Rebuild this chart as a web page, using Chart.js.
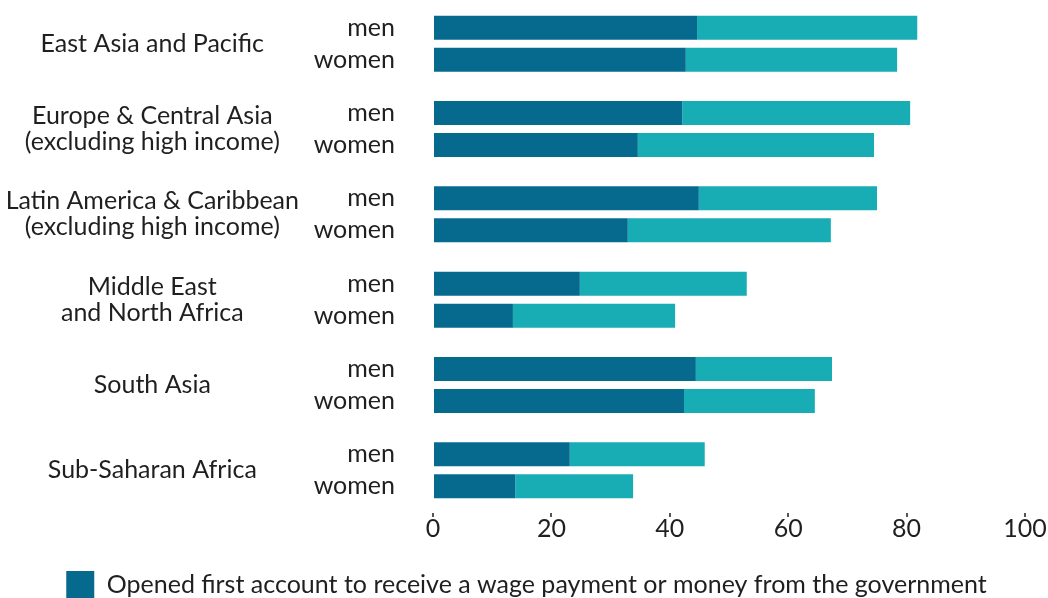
<!DOCTYPE html>
<html><head><meta charset="utf-8">
<script src="https://cdn.jsdelivr.net/npm/chart.js@4.4.0/dist/chart.umd.min.js"></script>
<style>
html,body{margin:0;padding:0;overflow:hidden;background:#fff}
#wrap{position:absolute;left:0;top:0;width:1048px;height:609px}
</style>
</head><body><div id="wrap"><canvas id="c"></canvas></div>
<script>
const regions = [
  ["East Asia and Pacific"],
  ["Europe & Central Asia", "(excluding high income)"],
  ["Latin America & Caribbean", "(excluding high income)"],
  ["Middle East", "and North Africa"],
  ["South Asia"],
  ["Sub-Saharan Africa"]
];
const genders = ["men", "women"];
const menWage    = [44.6, 42.1, 44.9, 24.8, 44.4, 23.1];
const menOther   = [37.2, 38.5, 30.1, 28.2, 23.0, 22.8];
const womenWage  = [42.7, 34.6, 32.9, 13.5, 42.4, 13.9];
const womenOther = [35.7, 39.9, 34.3, 27.4, 22.1, 19.9];
const xTicks = [0, 20, 40, 60, 80, 100];
const seriesNames = [
  "Opened first account to receive a wage payment or money from the government",
  "Other account owners"
];

const DARK = "#066a8f";
const TEAL = "#18adb5";
const FONT = "Lato";
const FS = 25;
const TXT = "#1f1f1f";

const genderLabels = {
  id: "genderLabels",
  afterDatasetsDraw(chart) {
    const ctx = chart.ctx;
    ctx.save();
    ctx.font = FS + "px " + FONT;
    ctx.fillStyle = TXT;
    ctx.textAlign = "right";
    ctx.textBaseline = "middle";
    [[0, genders[0]], [2, genders[1]]].forEach(([di, txt]) => {
      chart.getDatasetMeta(di).data.forEach(bar => {
        ctx.fillText(txt, chart.chartArea.left - 38, bar.y);
      });
    });
    ctx.restore();
  }
};

const legendShift = {
  id: "legendShift",
  afterLayout(chart) {
    if (chart.legend) {
      chart.legend.left += 14;
      chart.legend.right += 14;
    }
  }
};

new Chart(document.getElementById("c"), {
  type: "bar",
  data: {
    labels: regions,
    datasets: [
      { label: seriesNames[0], data: menWage,    stack: "men",   backgroundColor: DARK },
      { label: seriesNames[1], data: menOther,   stack: "men",   backgroundColor: TEAL },
      { label: seriesNames[0], data: womenWage,  stack: "women", backgroundColor: DARK },
      { label: seriesNames[1], data: womenOther, stack: "women", backgroundColor: TEAL }
    ]
  },
  options: {
    indexAxis: "y",
    responsive: true,
    maintainAspectRatio: false,
    animation: false,
    categoryPercentage: 0.749,
    barPercentage: 0.75,
    layout: { padding: { top: 1, left: 0, right: 23, bottom: 0 } },
    scales: {
      x: {
        type: "linear",
        min: 0, max: 100,
        stacked: true,
        afterBuildTicks: s => { s.ticks = xTicks.map(v => ({ value: v })); },
        ticks: { font: { family: FONT, size: FS }, color: TXT, padding: -3 },
        grid: { drawOnChartArea: false, drawTicks: true, tickLength: 4, color: "#555", lineWidth: 2 },
        border: { display: false }
      },
      y: {
        type: "category",
        position: "left",
        stacked: true,
        weight: 1,
        afterFit: s => { s.width = 299; s.paddingTop = 0; s.paddingBottom = 0; },
        ticks: { font: { family: FONT, size: FS, lineHeight: 1.04 }, color: TXT, crossAlign: "center", padding: 0, autoSkip: false },
        grid: { display: false, drawTicks: false },
        border: { display: false }
      },
      y2: {
        type: "category",
        position: "left",
        weight: 0,
        afterFit: s => { s.width = 134; s.paddingTop = 0; s.paddingBottom = 0; },
        ticks: { display: false },
        grid: { display: false, drawTicks: false },
        border: { display: false }
      }
    },
    plugins: {
      legend: {
        position: "bottom",
        align: "center",
        labels: {
          boxWidth: 28, boxHeight: 28, padding: 30,
          font: { family: FONT, size: FS }, color: TXT,
          filter: item => item.datasetIndex === 0
        }
      },
      tooltip: { enabled: false }
    }
  },
  plugins: [genderLabels, legendShift]
});
</script>
</body></html>
